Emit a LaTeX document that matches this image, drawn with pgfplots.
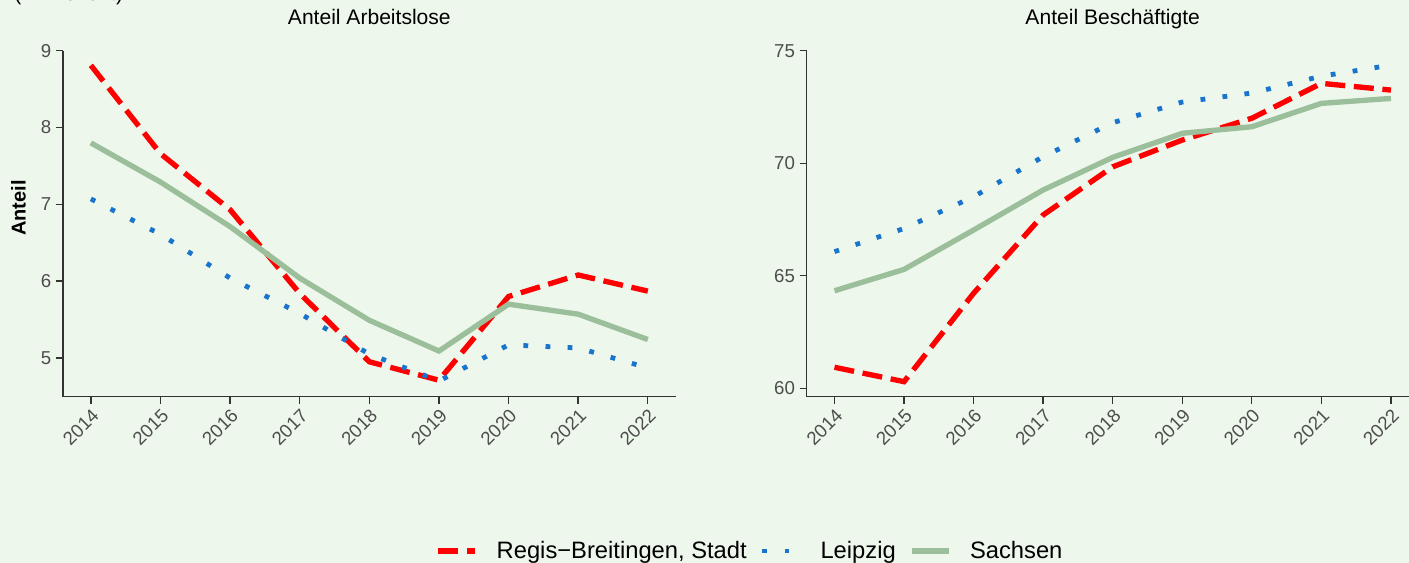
\documentclass[border=0pt]{standalone}
\usepackage{fontspec}
\setmainfont{Liberation Sans}
\usepackage{pgfplots}
\pgfplotsset{compat=1.18}
\definecolor{bgcol}{RGB}{238,247,236}
\definecolor{rred}{RGB}{255,0,0}
\definecolor{bblue}{RGB}{24,116,205}
\definecolor{ggreen}{RGB}{155,191,155}
\definecolor{txtgray}{RGB}{77,77,77}
\definecolor{axgray}{RGB}{51,51,51}

\pgfplotsset{
  panel/.style={
    scale only axis,
    anchor=south west,
    width=459.5pt, height=259.5pt,
    xmin=2013.6, xmax=2022.4,
    xtick={2014,...,2022},
    axis lines*=left,
    axis line style={axgray, line width=0.8pt},
    tick style={axgray, line width=1pt},
    tick align=outside,
    major tick length=5.3pt,
    clip=false,
    /pgf/number format/1000 sep={},
    /pgf/number format/assume math mode=true,
    every tick label/.append style={font=\fontsize{14}{16}\selectfont, text=txtgray},
    xticklabel style={rotate=45, anchor=north east, inner sep=2pt},
    title style={at={(0.5,1)}, anchor=base, yshift=13.3pt,
                 font=\fontsize{15.8}{18}\selectfont},
  },
  regis/.style={rred, line width=4pt, dash pattern=on 15pt off 6.5pt},
  leip/.style={bblue, line width=3.6pt, dash pattern=on 3.6pt off 13pt},
  sachs/.style={ggreen, line width=4pt},
}

\begin{document}
\begin{tikzpicture}
\useasboundingbox (0,0) rectangle (1056.75pt,422.25pt);
\fill[bgcol] (0,0) rectangle (1056.75pt,422.25pt);
\node[anchor=base west, inner sep=0pt, font=\fontsize{15.8}{18}\selectfont]
  at (10.5pt,422pt) {(in Prozent)};

% Anteil Arbeitslose
\begin{axis}[panel,
    at={(47.25pt,124.7pt)},
    ymin=4.495, ymax=9.0,
    ytick={5,6,7,8,9},
    title={Anteil Arbeitslose},
    ylabel={\fontsize{15}{17}\selectfont\bfseries Anteil},
    ylabel style={at={(-0.053,0.545)}, anchor=south},
    legend columns=3,
    legend style={at={(1.122,-0.446)}, anchor=center, draw=none, fill=none,
      font=\fontsize{17.8}{20}\selectfont,
      /tikz/every odd column/.append style={column sep=12pt},
      /tikz/every even column/.append style={column sep=8pt}},
    legend image code/.code={\draw[#1] (0pt,0pt) -- (27.75pt,0pt);},
  ]
  \addplot[regis] coordinates {(2014,8.81) (2015,7.66) (2016,6.93) (2017,5.84) (2018,4.95) (2019,4.71) (2020,5.80) (2021,6.08) (2022,5.87)};
  \addplot[leip] coordinates {(2014,7.07) (2015,6.61) (2016,6.04) (2017,5.58) (2018,5.05) (2019,4.70) (2020,5.17) (2021,5.13) (2022,4.87)};
  \addplot[sachs] coordinates {(2014,7.80) (2015,7.29) (2016,6.71) (2017,6.04) (2018,5.49) (2019,5.09) (2020,5.70) (2021,5.57) (2022,5.24)};
  \legend{Regis\textminus Breitingen{,} Stadt, Leipzig, Sachsen}
\end{axis}

% Anteil Beschaeftigte
\begin{axis}[panel,
    at={(605pt,124.7pt)},
    width=459.1pt,
    ymin=59.62, ymax=75,
    ytick={60,65,70,75},
    title={Anteil Beschäftigte},
  ]
  \addplot[regis] coordinates {(2014,60.93) (2015,60.29) (2016,64.22) (2017,67.7) (2018,69.84) (2019,71.03) (2020,72.0) (2021,73.55) (2022,73.25)};
  \addplot[leip] coordinates {(2014,66.07) (2015,67.1) (2016,68.51) (2017,70.29) (2018,71.8) (2019,72.72) (2020,73.12) (2021,73.87) (2022,74.36)};
  \addplot[sachs] coordinates {(2014,64.33) (2015,65.28) (2016,67.03) (2017,68.81) (2018,70.26) (2019,71.33) (2020,71.62) (2021,72.66) (2022,72.88)};
\end{axis}
\end{tikzpicture}
\end{document}
